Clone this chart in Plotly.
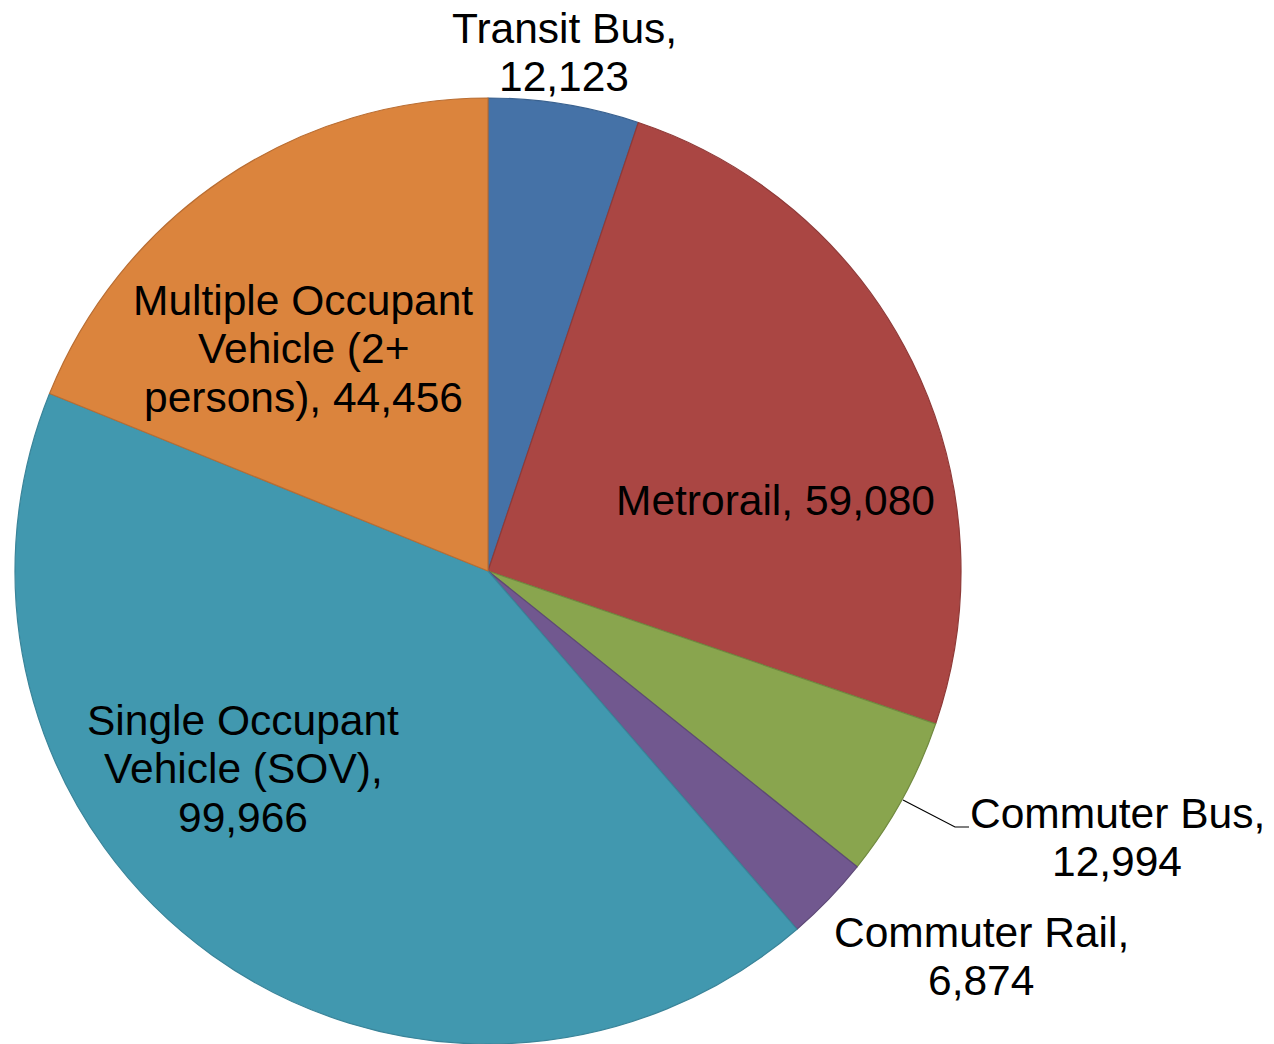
import textwrap
import plotly.graph_objects as go

# ---- data ----
labels = ["Transit Bus", "Metrorail", "Commuter Bus", "Commuter Rail",
          "Single Occupant Vehicle (SOV)", "Multiple Occupant Vehicle (2+ persons)"]
values = [12123, 59080, 12994, 6874, 99966, 44456]
colors = ["#4572A7", "#AA4643", "#89A54E", "#71588F", "#4198AF", "#DB843D"]
edge_colors = ["#3A6290", "#8F3A38", "#718A40", "#5E4977", "#3A8499", "#B96D32"]

# ---- layout helpers ----
W, H = 1274, 1044
wrap_width = [12, 20, 14, 14, 15, 17]
# label first-line centre in pixels
label_pos = [(564, 28), (775, 500), (1117, 813), (981, 932), (243, 720), (303, 300)]
line_step = 48.5
FONT = "Liberation Sans"
FS = 42.5

fig = go.Figure(go.Pie(
    labels=labels, values=values, sort=False, direction="clockwise", rotation=0,
    marker=dict(colors=colors, line=dict(color=edge_colors, width=1.2)),
    textinfo="none", hoverinfo="label+value", showlegend=False,
    domain=dict(x=[14 / W, 962 / W], y=[0, 1 - 98 / H]),
))

annotations = []
for lab, val, ww, (px, py) in zip(labels, values, wrap_width, label_pos):
    lines = textwrap.wrap(f"{lab}, {val:,}", width=ww)
    for i, ln in enumerate(lines):
        annotations.append(dict(
            text=ln, x=px / W, y=1 - (py + i * line_step) / H,
            xref="paper", yref="paper", xanchor="center", yanchor="middle",
            showarrow=False, font=dict(family=FONT, size=FS, color="black"),
        ))

# leader line for Commuter Bus
pts = [(903, 800), (955, 827), (969, 827)]
path = "M " + " L ".join(f"{x / W},{1 - y / H}" for x, y in pts)
shapes = [dict(type="path", path=path, xref="paper", yref="paper",
               line=dict(color="black", width=1.2))]

fig.update_layout(
    width=W, height=H, margin=dict(l=0, r=0, t=0, b=0),
    paper_bgcolor="white", plot_bgcolor="white",
    annotations=annotations, shapes=shapes,
)
fig.write_html("out.html")
